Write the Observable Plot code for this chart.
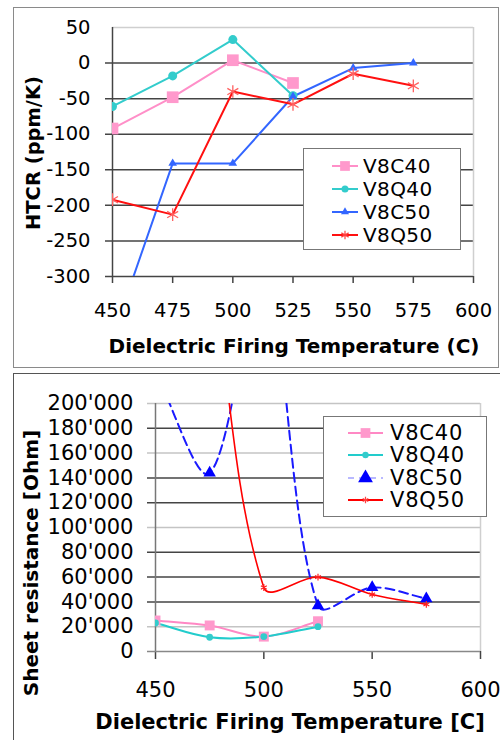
<!DOCTYPE html>
<html>
<head>
<meta charset="utf-8">
<script src="https://cdn.jsdelivr.net/npm/d3@7"></script>
<script src="https://cdn.jsdelivr.net/npm/@observablehq/plot@0.6"></script>
<style>
  body { margin: 0; background: #fff; }
  #root { position: relative; width: 500px; height: 740px; overflow: hidden; background: #fff; font-family: "DejaVu Sans", sans-serif; color: #000; }
  .panel { position: absolute; box-sizing: border-box; }
  .plot { position: absolute; left: 0; }
  .plot g[aria-label="x-axis tick"] path { stroke: #444; stroke-width: 1.5; }
  .title { position: absolute; font-weight: bold; white-space: nowrap; transform: translate(-50%, -50%); }
  .ytitle { position: absolute; font-weight: bold; white-space: nowrap; transform: translate(-50%, -50%) rotate(-90deg); }
  .legend { position: absolute; box-sizing: border-box; background: #fff; border: 1px solid #777; }
  .legend .row { position: absolute; left: 0; display: flex; align-items: center; white-space: nowrap; }
</style>
</head>
<body>
<div id="root"></div>
<script>
// ---------- data ----------
const temps = [450, 475, 500, 525, 550, 575];
const seriesNames = ["V8C40", "V8Q40", "V8C50", "V8Q50"];

// HTCR (ppm/K)
const htcrV8C40 = [-92, -48, 4, -28, null, null];
const htcrV8Q40 = [-61, -18, 33, -46, null, null];
const htcrV8C50 = [-385, -141, -141, -47, -7, 0];
const htcrV8Q50 = [-192, -213, -40, -58, -15, -32];

// Sheet resistance (Ohm)
const resV8C40 = [25000, 21000, 12000, 24400, null, null];
const resV8Q40 = [23000, 11500, 12000, 20000, null, null];
const resV8C50 = [225000, 144000, 305000, 37000, 51600, 42700];
const resV8Q50 = [null, 325000, 51600, 60000, 46000, 38000];

// tick labels
const topXTicks = [450, 475, 500, 525, 550, 575, 600];
const topYTicks = [-300, -250, -200, -150, -100, -50, 0, 50];
const botXTicks = [450, 500, 550, 600];
const botYTicks = [0, 20000, 40000, 60000, 80000, 100000, 120000, 140000, 160000, 180000, 200000];

const topTitleX = "Dielectric Firing Temperature (C)";
const topTitleY = "HTCR (ppm/K)";
const botTitleX = "Dielectric Firing Temperature [C]";
const botTitleY = "Sheet resistance [Ohm]";

// ---------- helpers ----------
function rows(vals) {
  return temps.map((t, i) => ({t, v: vals[i]})).filter(d => d.v != null);
}
const root = document.getElementById("root");
function el(tag, cls, css, text) {
  const e = document.createElement(tag);
  if (cls) e.className = cls;
  Object.assign(e.style, css || {});
  if (text != null) e.textContent = text;
  root.appendChild(e);
  return e;
}
const fmtRes = d3.formatLocale({decimal: ".", thousands: "'", grouping: [3], currency: ["", ""]}).format(",");

// spreadsheet-style smoothed line: Bezier with chord-length weighted tangents
function excelSmooth(context) {
  let pts = [];
  return {
    areaStart() {}, areaEnd() {},
    lineStart() { pts = []; },
    point(x, y) { pts.push([+x, +y]); },
    lineEnd() {
      const n = pts.length;
      if (!n) return;
      context.moveTo(pts[0][0], pts[0][1]);
      if (n === 2) { context.lineTo(pts[1][0], pts[1][1]); return; }
      const dist = (a, b) => Math.hypot(b[0] - a[0], b[1] - a[1]);
      for (let i = 0; i < n - 1; i++) {
        const p0 = pts[i - 1] || pts[i], p1 = pts[i], p2 = pts[i + 1], p3 = pts[i + 2] || pts[i + 1];
        const d01 = dist(p0, p1), d12 = dist(p1, p2), d23 = dist(p2, p3);
        const f1 = d01 + d12 > 0 ? d12 / (3 * (d01 + d12)) : 0;
        const f2 = d12 + d23 > 0 ? d12 / (3 * (d12 + d23)) : 0;
        context.bezierCurveTo(
          p1[0] + (p2[0] - p0[0]) * f1, p1[1] + (p2[1] - p0[1]) * f1,
          p2[0] - (p3[0] - p1[0]) * f2, p2[1] - (p3[1] - p1[1]) * f2,
          p2[0], p2[1]);
      }
    }
  };
}

// panels
el("div", "panel", {left: "13px", top: "7px", width: "486px", height: "361px", border: "1.5px solid #8a8a8a"});
el("div", "panel", {left: "13px", top: "373px", width: "492px", height: "380px", border: "1.5px solid #555"});

// ---------- top chart ----------
const topStyle = {
  C40: {stroke: "#ff8fc8", fill: "#ff99cc", symbol: "square", r: 6.6},
  Q40: {stroke: "#33cccc", fill: "#33cccc", symbol: "circle", r: 4.5},
  C50: {stroke: "#3366ff", fill: "#3366ff", symbol: "triangle", r: 3.2},
  Q50: {stroke: "#ff1010", fill: "none", symbol: "asterisk", r: 6}
};
const topData = [htcrV8C40, htcrV8Q40, htcrV8C50, htcrV8Q50];
const topKeys = ["C40", "Q40", "C50", "Q50"];

const topMarks = [
  Plot.ruleY(topYTicks.filter(v => v !== 50), {stroke: "#444", strokeWidth: 1.5, insetLeft: -7}),
  Plot.ruleY([50], {stroke: "#cfcfcf", strokeWidth: 1.5}),
  Plot.ruleX([600], {stroke: "#cfcfcf", strokeWidth: 1.5}),
  Plot.ruleX([450], {stroke: "#444", strokeWidth: 1.5})
];
topData.forEach((vals, i) => {
  const s = topStyle[topKeys[i]];
  topMarks.push(Plot.line(rows(vals), {x: "t", y: "v", stroke: s.stroke, strokeWidth: 2, clip: true}));
});
topData.forEach((vals, i) => {
  const s = topStyle[topKeys[i]];
  const isAst = s.symbol === "asterisk";
  topMarks.push(Plot.dot(rows(vals), {x: "t", y: "v", symbol: s.symbol, r: s.r, clip: true,
    fill: isAst ? "none" : s.fill, stroke: isAst ? "#ff6060" : "none", strokeWidth: isAst ? 1.3 : 0}));
});

const topPlot = Plot.plot({
  width: 500, height: 367,
  marginLeft: 112, marginRight: 27, marginTop: 27, marginBottom: 91,
  x: {domain: [450, 600], ticks: topXTicks, tickSize: 7, tickPadding: 20, tickFormat: d => String(d), label: null},
  y: {domain: [-300, 50], ticks: topYTicks, tickSize: 0, tickPadding: 22, tickFormat: d => String(d), label: null},
  style: {fontFamily: "DejaVu Sans", fontSize: "19.5px", color: "#000", background: "transparent", overflow: "visible"},
  marks: topMarks
});
topPlot.classList.add("plot");
topPlot.style.top = "0px";
root.appendChild(topPlot);

el("div", "title", {left: "294px", top: "346px", fontSize: "20px"}, topTitleX);
el("div", "ytitle", {left: "33px", top: "153px", fontSize: "19.5px"}, topTitleY);

// ---------- bottom chart ----------
const botStyle = {
  C40: {stroke: "#ff88c4", fill: "#ff99cc", symbol: "square", r: 5.6, width: 2, dash: null},
  Q40: {stroke: "#22cccc", fill: "#33cccc", symbol: "circle", r: 3.4, width: 2, dash: null},
  C50: {stroke: "#1a1aff", fill: "#0000ff", symbol: "triangle", r: 4.6, width: 2, dash: "9,5"},
  Q50: {stroke: "#ff0000", fill: "none", symbol: "asterisk", r: 3.2, width: 1.6, dash: null}
};
const botData = [resV8C40, resV8Q40, resV8C50, resV8Q50];
const lightGrid = [200000, 160000, 100000, 20000];

const botMarks = [
  Plot.ruleY(botYTicks, {stroke: d => lightGrid.includes(d) ? "#c4c4c4" : (d === 0 ? "#888" : "#444"), strokeWidth: 1.5, insetLeft: -8}),
  Plot.ruleX([600], {stroke: "#cfcfcf", strokeWidth: 1.5}),
  Plot.ruleX([450], {stroke: "#777", strokeWidth: 1.5})
];
botData.forEach((vals, i) => {
  const s = botStyle[topKeys[i]];
  botMarks.push(Plot.line(rows(vals), {x: "t", y: "v", stroke: s.stroke, strokeWidth: s.width,
    strokeDasharray: s.dash, curve: excelSmooth, clip: true}));
});
botData.forEach((vals, i) => {
  const s = botStyle[topKeys[i]];
  const isAst = s.symbol === "asterisk";
  botMarks.push(Plot.dot(rows(vals), {x: "t", y: "v", symbol: s.symbol, r: s.r, clip: true,
    fill: isAst ? "none" : s.fill, stroke: isAst ? "#ff2020" : "none", strokeWidth: isAst ? 1.2 : 0}));
});

const botPlot = Plot.plot({
  width: 500, height: 367,
  marginLeft: 155, marginRight: 20, marginTop: 30, marginBottom: 89,
  x: {domain: [450, 600], ticks: botXTicks, tickSize: 8, tickPadding: 23, tickFormat: d => String(d), label: null},
  y: {domain: [0, 200000], ticks: botYTicks, tickSize: 0, tickPadding: 22, tickFormat: fmtRes, label: null},
  style: {fontFamily: "DejaVu Sans", fontSize: "21px", color: "#000", background: "transparent", overflow: "visible"},
  marks: botMarks
});
botPlot.classList.add("plot");
botPlot.style.top = "373px";
root.appendChild(botPlot);

el("div", "title", {left: "290px", top: "722px", fontSize: "21px"}, botTitleX);
el("div", "ytitle", {left: "31px", top: "563px", fontSize: "20px"}, botTitleY);

// ---------- legends ----------
function legend(box, styles, rowYs, sym, fontSize, dashed) {
  const lg = el("div", "legend", {left: box.x + "px", top: box.y + "px", width: box.w + "px", height: box.h + "px"});
  seriesNames.forEach((name, i) => {
    const s = styles[topKeys[i]];
    const row = document.createElement("div");
    row.className = "row";
    row.style.top = (rowYs[i] - box.y - 13) + "px";
    row.style.height = "26px";
    row.style.left = (sym.x0 - box.x - 1) + "px";
    const w = sym.x1 - sym.x0;
    const svg = d3.create("svg").attr("width", w).attr("height", 26);
    const isAst = s.symbol === "asterisk";
    svg.append("line").attr("x1", 0).attr("x2", w).attr("y1", 13).attr("y2", 13)
      .attr("stroke", dashed && s.dash ? "#b8b8ff" : s.stroke).attr("stroke-width", 2)
      .attr("stroke-dasharray", dashed && s.dash ? "6,5" : null);
    const symType = {square: d3.symbolSquare, circle: d3.symbolCircle, triangle: d3.symbolTriangle, asterisk: d3.symbolAsterisk}[s.symbol];
    const rr = sym.r[i];
    svg.append("path").attr("transform", `translate(${w / 2},13)`)
      .attr("d", d3.symbol(symType, Math.PI * rr * rr)())
      .attr("fill", isAst ? "none" : s.fill).attr("stroke", isAst ? "#ff4040" : "none").attr("stroke-width", 1.2);
    row.appendChild(svg.node());
    const t = document.createElement("span");
    t.textContent = name;
    t.style.fontSize = fontSize + "px";
    t.style.marginLeft = sym.gap + "px";
    t.style.letterSpacing = sym.ls + "px";
    row.appendChild(t);
    lg.appendChild(row);
  });
}
legend({x: 303, y: 148, w: 158, h: 102}, topStyle, [165, 188, 211, 234],
  {x0: 332, x1: 358, r: [5.5, 3.5, 3, 4], gap: 5, ls: 0.4}, 20, false);
legend({x: 323, y: 416, w: 164, h: 101}, botStyle, [432, 454, 477, 499],
  {x0: 348, x1: 383, r: [5.5, 3.2, 5.5, 3], gap: 7, ls: 0.8}, 21, true);
</script>
</body>
</html>
